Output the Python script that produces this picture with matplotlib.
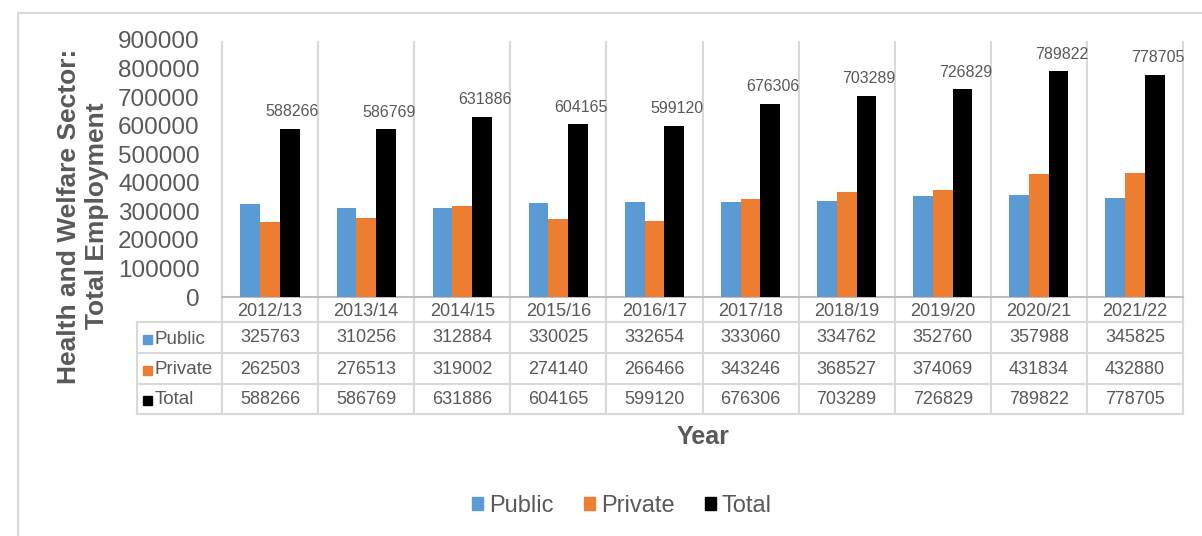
import numpy as np
import matplotlib
matplotlib.use("Agg")
import matplotlib.pyplot as plt
from matplotlib.patches import Patch, Rectangle
from matplotlib import transforms

years = ["2012/13", "2013/14", "2014/15", "2015/16", "2016/17",
         "2017/18", "2018/19", "2019/20", "2020/21", "2021/22"]
public = [325763, 310256, 312884, 330025, 332654, 333060, 334762, 352760, 357988, 345825]
private = [262503, 276513, 319002, 274140, 266466, 343246, 368527, 374069, 431834, 432880]
total = [588266, 586769, 631886, 604165, 599120, 676306, 703289, 726829, 789822, 778705]
series_names = ["Public", "Private", "Total"]
colors = ["#5B9BD5", "#ED7D31", "#000000"]

W, H = 1202, 536
TXT = "#595959"
GRID = "#d9d9d9"
plt.rcParams["font.family"] = ["Liberation Sans", "DejaVu Sans"]


def fx(x):
    return x / W


def fy(y):
    return 1 - y / H


fig = plt.figure(figsize=(W / 100, H / 100), dpi=100)
# outer chart border
fig.add_artist(Rectangle((fx(18), fy(560)), 1.2, fy(13) - fy(560),
                         transform=fig.transFigure, fill=False,
                         edgecolor=GRID, lw=1.5))

ax = fig.add_axes([fx(222), fy(297), fx(1183) - fx(222), fy(40) - fy(297)])
x = np.arange(len(years))
w = 0.205
for i, (vals, c) in enumerate(zip([public, private, total], colors)):
    ax.bar(x + (i - 1) * w, vals, w, color=c, zorder=3)

for xi, v in zip(x, total):
    ax.annotate(str(v), (xi + w, v), xytext=(2, 7), textcoords="offset points",
                ha="center", va="bottom", fontsize=11.5, color=TXT)

ax.set_xlim(-0.5, len(years) - 0.5)
ax.set_ylim(0, 900000)
ax.set_yticks(np.arange(0, 900001, 100000))
ax.set_yticklabels([str(v) for v in range(0, 900001, 100000)], fontsize=17.5, color=TXT)
ax.tick_params(axis="y", length=0, pad=16)
ax.set_xticks([])
for s in ax.spines.values():
    s.set_visible(False)

# table
bt = transforms.blended_transform_factory(ax.transData, fig.transFigure)
for b in np.arange(-0.5, len(years), 1.0):
    ax.plot([b, b], [fy(42), fy(414)], color=GRID, lw=1.5, transform=bt, clip_on=False)
ax.plot([-0.5, len(years) - 0.5], [fy(297), fy(297)], color="#bfbfbf", lw=1.5,
        transform=bt, clip_on=False)
for yl in [322, 353, 384, 414]:
    fig.add_artist(plt.Line2D([fx(137), fx(1183)], [fy(yl), fy(yl)], color=GRID, lw=1.5,
                              transform=fig.transFigure))
fig.add_artist(plt.Line2D([fx(137), fx(137)], [fy(322), fy(414)], color=GRID, lw=1.5,
                          transform=fig.transFigure))

for xi, yr in zip(x, years):
    ax.text(xi, fy(311), yr, transform=bt, ha="center", va="center", fontsize=13, color=TXT)

rows = [public, private, total]
row_y = [338, 369, 399]
for name, c, vals, ry in zip(series_names, colors, rows, row_y):
    fig.add_artist(Rectangle((fx(143), fy(ry + 6)), fx(9), fy(0) - fy(9),
                             transform=fig.transFigure, color=c))
    fig.text(fx(155), fy(ry + 1), name, ha="left", va="center", fontsize=13.5, color=TXT)
    for xi, v in zip(x, vals):
        ax.text(xi, fy(ry), str(v), transform=bt, ha="center", va="center",
                fontsize=13, color=TXT)

fig.text(fx(83), fy(216), "Health and Welfare Sector:\nTotal Employment", rotation=90,
         ha="center", va="center", multialignment="center", fontsize=19,
         fontweight="bold", color=TXT, linespacing=1.2)
fig.text(fx(703), fy(437), "Year", ha="center", va="center", fontsize=18,
         fontweight="bold", color=TXT)

handles = [Patch(color=c, label=n) for n, c in zip(series_names, colors)]
fig.legend(handles=handles, loc="center", bbox_to_anchor=(fx(622), fy(506)), ncol=3,
           frameon=False, fontsize=17, handlelength=0.45, handleheight=0.45,
           handletextpad=0.25, columnspacing=1.3, labelcolor=TXT)

fig.savefig("out.png", dpi=100)
